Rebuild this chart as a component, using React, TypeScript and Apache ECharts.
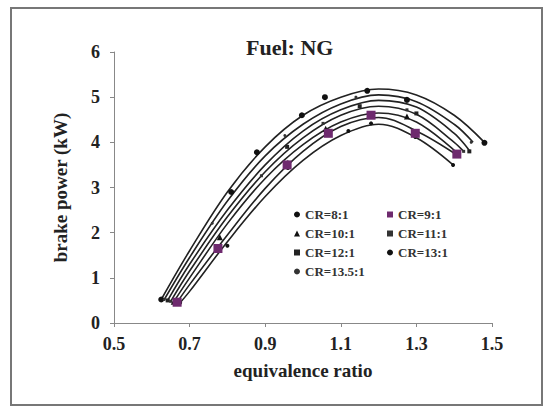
import React, { useEffect, useRef } from "react";
import * as echarts from "echarts";

const xTicks = [0.5, 0.7, 0.9, 1.1, 1.3, 1.5];
const yTicks = [0, 1, 2, 3, 4, 5, 6];

// Measured points (markers)
const phiCR8 = [0.675, 0.8, 0.96, 1.12, 1.18, 1.297, 1.397];
const powCR8 = [0.45, 1.71, 3.43, 4.25, 4.42, 4.12, 3.5];
const phiCR9 = [0.667, 0.775, 0.958, 1.067, 1.18, 1.297, 1.407];
const powCR9 = [0.46, 1.65, 3.5, 4.2, 4.6, 4.2, 3.74];
const phiCR10 = [0.658, 0.78, 0.96, 1.06, 1.275, 1.41];
const powCR10 = [0.47, 1.9, 3.55, 4.3, 4.57, 3.75];
const phiCR11 = [0.65, 0.89, 1.053, 1.275, 1.425];
const powCR11 = [0.48, 3.26, 4.42, 4.72, 3.8];
const phiCR12 = [0.642, 0.958, 1.15, 1.3, 1.44];
const powCR12 = [0.5, 3.9, 4.8, 4.64, 3.8];
const phiCR13 = [0.625, 0.81, 0.878, 0.997, 1.058, 1.17, 1.275, 1.48];
const powCR13 = [0.52, 2.9, 3.78, 4.6, 5.0, 5.14, 4.94, 3.99];
const phiCR135 = [0.633, 0.76, 0.952, 1.14, 1.445];
const powCR135 = [0.52, 2.21, 4.15, 5.0, 4.0];

// Trend curves
const fitPhiCR8 = [0.675, 0.7, 0.8, 0.9, 1.0, 1.1, 1.2, 1.3, 1.397];
const fitPowCR8 = [0.45, 0.7, 1.8, 2.8, 3.6, 4.15, 4.4, 4.1, 3.5];
const fitPhiCR9 = [0.667, 0.7, 0.8, 0.9, 1.0, 1.1, 1.2, 1.3, 1.407];
const fitPowCR9 = [0.46, 0.85, 1.95, 2.98, 3.8, 4.35, 4.55, 4.25, 3.72];
const fitPhiCR10 = [0.658, 0.7, 0.8, 0.9, 1.0, 1.1, 1.2, 1.3, 1.41];
const fitPowCR10 = [0.47, 1.0, 2.2, 3.2, 3.95, 4.45, 4.65, 4.45, 3.75];
const fitPhiCR11 = [0.65, 0.7, 0.8, 0.9, 1.0, 1.1, 1.2, 1.3, 1.4, 1.425];
const fitPowCR11 = [0.48, 1.15, 2.35, 3.35, 4.1, 4.6, 4.8, 4.62, 4.0, 3.8];
const fitPhiCR12 = [0.642, 0.7, 0.8, 0.9, 1.0, 1.1, 1.2, 1.3, 1.4, 1.44];
const fitPowCR12 = [0.5, 1.3, 2.5, 3.5, 4.25, 4.72, 4.93, 4.78, 4.2, 3.82];
const fitPhiCR13 = [0.625, 0.7, 0.8, 0.9, 1.0, 1.1, 1.2, 1.3, 1.4, 1.48];
const fitPowCR13 = [0.52, 1.6, 2.9, 3.9, 4.6, 5.0, 5.18, 5.05, 4.6, 4.0];
const fitPhiCR135 = [0.633, 0.7, 0.8, 0.9, 1.0, 1.1, 1.2, 1.3, 1.4, 1.45];
const fitPowCR135 = [0.52, 1.45, 2.7, 3.7, 4.4, 4.85, 5.05, 4.9, 4.4, 4.0];

const seriesNames = ["CR=8:1", "CR=9:1", "CR=10:1", "CR=11:1", "CR=12:1", "CR=13:1", "CR=13.5:1"];
const seriesPhi = [phiCR8, phiCR9, phiCR10, phiCR11, phiCR12, phiCR13, phiCR135];
const seriesPow = [powCR8, powCR9, powCR10, powCR11, powCR12, powCR13, powCR135];
const fitPhi = [fitPhiCR8, fitPhiCR9, fitPhiCR10, fitPhiCR11, fitPhiCR12, fitPhiCR13, fitPhiCR135];
const fitPow = [fitPowCR8, fitPowCR9, fitPowCR10, fitPowCR11, fitPowCR12, fitPowCR13, fitPowCR135];
const seriesSymbols = ["circle", "rect", "triangle", "rect", "rect", "circle", "circle"];
const seriesSymbolSizes = [4, 9, 6, 3, 4, 6, 3];
const seriesColors = ["#111", "#6e2a6e", "#111", "#333", "#222", "#111", "#333"];

const legendLeftCol = ["CR=8:1", "CR=10:1", "CR=12:1", "CR=13.5:1"];
const legendRightCol = ["CR=9:1", "CR=11:1", "CR=13:1"];

const SERIF = '"Liberation Serif", "Times New Roman", serif';

export default function App() {
  const ref = useRef<HTMLDivElement>(null);
  useEffect(() => {
    if (!ref.current) return;
    const chart = echarts.init(ref.current, undefined, { renderer: "svg" });
    const iconFor = (name: string) => seriesSymbols[seriesNames.indexOf(name)];
    const legendBase = {
      orient: "vertical",
      itemWidth: 6,
      itemHeight: 6,
      itemGap: 6,
      textStyle: { fontFamily: SERIF, fontSize: 13, fontWeight: "bold", color: "#333" },
    };
    const trendSeries = seriesNames.map((name, i) => ({
      name: name + " trend",
      type: "line",
      smooth: 0.35,
      symbol: "none",
      data: fitPhi[i].map((p, j) => [p, fitPow[i][j]]),
      lineStyle: { color: "#222", width: 1.6 },
      z: 2,
      silent: true,
    }));
    const pointSeries = seriesNames.map((name, i) => ({
      name,
      type: "scatter",
      data: seriesPhi[i].map((p, j) => [p, seriesPow[i][j]]),
      symbol: seriesSymbols[i],
      symbolSize: seriesSymbolSizes[i],
      itemStyle: { color: seriesColors[i], opacity: 1 },
      z: i === 1 ? 4 : 3,
    }));
    chart.setOption({
      animation: false,
      backgroundColor: "#fff",
      title: {
        text: "Fuel: NG",
        left: 241,
        top: 31,
        textStyle: { fontFamily: SERIF, fontSize: 22, fontWeight: "bold", color: "#222" },
      },
      graphic: [
        {
          type: "rect",
          shape: { x: 11, y: 8, width: 531, height: 397 },
          style: { fill: "none", stroke: "#777", lineWidth: 2 },
          silent: true,
        },
      ],
      legend: [
        {
          ...legendBase,
          left: 289,
          top: 203,
          data: legendLeftCol.map((n) => ({ name: n, icon: iconFor(n) })),
        },
        {
          ...legendBase,
          left: 382,
          top: 203,
          data: legendRightCol.map((n) => ({ name: n, icon: iconFor(n) })),
        },
      ],
      grid: { left: 114, right: 53, top: 52, bottom: 85 },
      xAxis: {
        type: "value",
        min: xTicks[0],
        max: xTicks[xTicks.length - 1],
        interval: 0.2,
        name: "equivalence ratio",
        nameLocation: "middle",
        nameGap: 38,
        nameTextStyle: { fontFamily: SERIF, fontSize: 19, fontWeight: "bold", color: "#222" },
        axisLine: { lineStyle: { color: "#888", width: 1 } },
        axisTick: { show: true, length: 4, lineStyle: { color: "#888" } },
        splitLine: { show: false },
        axisLabel: {
          margin: 12,
          fontFamily: SERIF,
          fontSize: 18,
          fontWeight: "bold",
          color: "#222",
          formatter: (v: number) => v.toFixed(1),
        },
      },
      yAxis: {
        type: "value",
        min: yTicks[0],
        max: yTicks[yTicks.length - 1],
        interval: 1,
        name: "brake power (kW)",
        nameLocation: "middle",
        nameGap: 44,
        nameRotate: 90,
        nameTextStyle: { fontFamily: SERIF, fontSize: 19, fontWeight: "bold", color: "#222" },
        axisLine: { show: true, lineStyle: { color: "#888", width: 1 } },
        axisTick: { show: true, length: 4, lineStyle: { color: "#888" } },
        splitLine: { show: false },
        axisLabel: {
          margin: 14,
          fontFamily: SERIF,
          fontSize: 18,
          fontWeight: "bold",
          color: "#222",
        },
      },
      series: [...trendSeries, ...pointSeries],
    });
    return () => chart.dispose();
  }, []);
  return (
    <div
      ref={ref}
      style={{ position: "fixed", left: 0, top: 0, width: 545, height: 408 }}
    />
  );
}
